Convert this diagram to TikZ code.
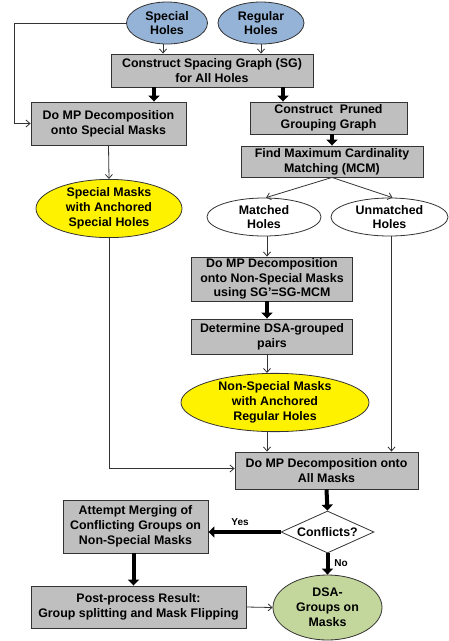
\documentclass[tikz,border=0pt]{standalone}
\usepackage{fontspec}
\setmainfont{Liberation Sans}
\usetikzlibrary{shapes.geometric,arrows.meta}
\definecolor{bluef}{HTML}{95B3D7}
\definecolor{grayf}{HTML}{BFBFBF}
\definecolor{greenf}{HTML}{C3D69B}
\definecolor{edgec}{HTML}{333333}
\begin{document}
\begin{tikzpicture}[x=1pt,y=-1pt,
  font=\fontsize{12.4}{14.8}\selectfont\bfseries,
  box/.style={rectangle, draw=edgec, line width=0.9pt, fill=grayf, align=center, inner sep=0pt},
  ell/.style={ellipse, draw=edgec, line width=0.8pt, align=center, inner sep=0pt},
  thinarr/.style={draw=edgec, line width=0.8pt, -{Straight Barb[length=4pt,width=7pt]}},
  thickarr/.style={draw=black, line width=4pt, -{Triangle[length=6pt,width=11pt]}},
  lbl/.style={font=\fontsize{10}{12}\selectfont\bfseries, inner sep=0pt}]
\useasboundingbox (0,0) rectangle (448,641);

\node[ell, fill=bluef, minimum width=81pt, minimum height=42pt] (sp) at (167,23) {Special\\Holes};
\node[ell, fill=bluef, minimum width=86pt, minimum height=42pt] (rg) at (261,23) {Regular\\Holes};
\node[box, minimum width=202pt, minimum height=33pt] (sg) at (212,70.5) {Construct Spacing Graph (SG)\\for All Holes};
\node[box, minimum width=155pt, minimum height=43pt] (mps) at (108.5,123.5) {Do MP Decomposition\\onto Special Masks};
\node[box, minimum width=157pt, minimum height=32pt] (pr) at (328.5,118) {Construct\ \ Pruned\\Grouping Graph};
\node[box, minimum width=182pt, minimum height=31pt] (mcm) at (332,161.5) {Find Maximum Cardinality\\Matching (MCM)};
\node[ell, fill=yellow, minimum width=146pt, minimum height=55pt] (sm) at (109,208.5) {Special Masks\\with Anchored\\Special Holes};
\node[ell, fill=white, minimum width=114pt, minimum height=38pt] (mat) at (264,217) {Matched\\Holes};
\node[ell, fill=white, minimum width=117pt, minimum height=38pt] (unm) at (389.5,217) {Unmatched\\Holes};
\node[box, minimum width=161pt, minimum height=44pt] (nsm) at (272,279) {Do MP Decomposition\\onto Non-Special Masks\\using SG’=SG-MCM};
\node[box, minimum width=161pt, minimum height=35pt] (dsa) at (272,336.5) {Determine DSA-grouped\\pairs};
\node[ell, fill=yellow, minimum width=188pt, minimum height=53pt] (nsr) at (275,402.5) {Non-Special Masks\\with Anchored\\Regular Holes};
\node[box, minimum width=183pt, minimum height=37pt] (all) at (326.5,470.5) {Do MP Decomposition onto\\All Masks};
\node[diamond, draw=edgec, line width=0.8pt, fill=white, minimum width=93pt, minimum height=42pt, aspect=2.2, inner sep=0pt] (cf) at (327.5,532) {Conflicts?};
\node[box, minimum width=145pt, minimum height=53pt] (att) at (135.5,526.5) {Attempt Merging of\\Conflicting Groups on\\Non-Special Masks};
\node[box, minimum width=215pt, minimum height=42pt] (pp) at (138.5,607) {Post-process Result:\\Group splitting and Mask Flipping};
\node[ell, fill=greenf, minimum width=109pt, minimum height=65pt] (dg) at (327.5,607.5) {DSA-\\Groups on\\Masks};
\node[lbl] (yes) at (240,522) {Yes};
\node[lbl] (no) at (341,563) {No};
\coordinate (lc) at (14,0);

\draw[thinarr] (sp.west) -- (sp.west -| lc) |- (mps.west);
\draw[thinarr] ([xshift=-4pt]sp.south) -- ([xshift=-4pt]sp.south |- sg.north);
\draw[thinarr] (rg.south) -- (rg.south |- sg.north);
\draw[thickarr] ([xshift=-58pt]sg.south) -- ([xshift=-58pt]sg.south |- mps.north);
\draw[thickarr] ([xshift=71pt]sg.south) -- ([xshift=71pt]sg.south |- pr.north);
\draw[thickarr] (mcm.north |- pr.south) -- (mcm.north);
\draw[thinarr] (mps.south) -- (sm.north);
\draw[thinarr] (mcm.south) -- ([xshift=2pt]mat.north);
\draw[thinarr] (mcm.south) -- ([xshift=3pt]unm.north);
\draw[thinarr] ([xshift=3pt]mat.south) -- ([xshift=3pt]mat.south |- nsm.north);
\draw[thickarr] ([xshift=-5pt]nsm.south) -- ([xshift=-5pt]dsa.north);
\draw[thinarr] ([xshift=-5pt]dsa.south) -- ([xshift=-5pt]dsa.south |- nsr.north);
\draw[thinarr] ([xshift=-5pt]dsa.south |- nsr.south) -- ([xshift=-5pt]dsa.south |- all.north);
\draw[thinarr] (sm.south) |- ([yshift=2pt]all.west);
\draw[thinarr] ([xshift=2pt]unm.south) -- ([xshift=2pt]unm.south |- all.north);
\draw[thickarr] (all.south) -- (cf.north);
\draw[thickarr] (cf.west) -- (cf.west -| att.east);
\draw[thickarr] (cf.south) -- (dg.north);
\draw[thickarr] ([xshift=-2pt]att.south) -- ([xshift=-2pt]att.south |- pp.north);
\draw[thinarr] (pp.east) -- (dg.west);
\end{tikzpicture}
\end{document}
